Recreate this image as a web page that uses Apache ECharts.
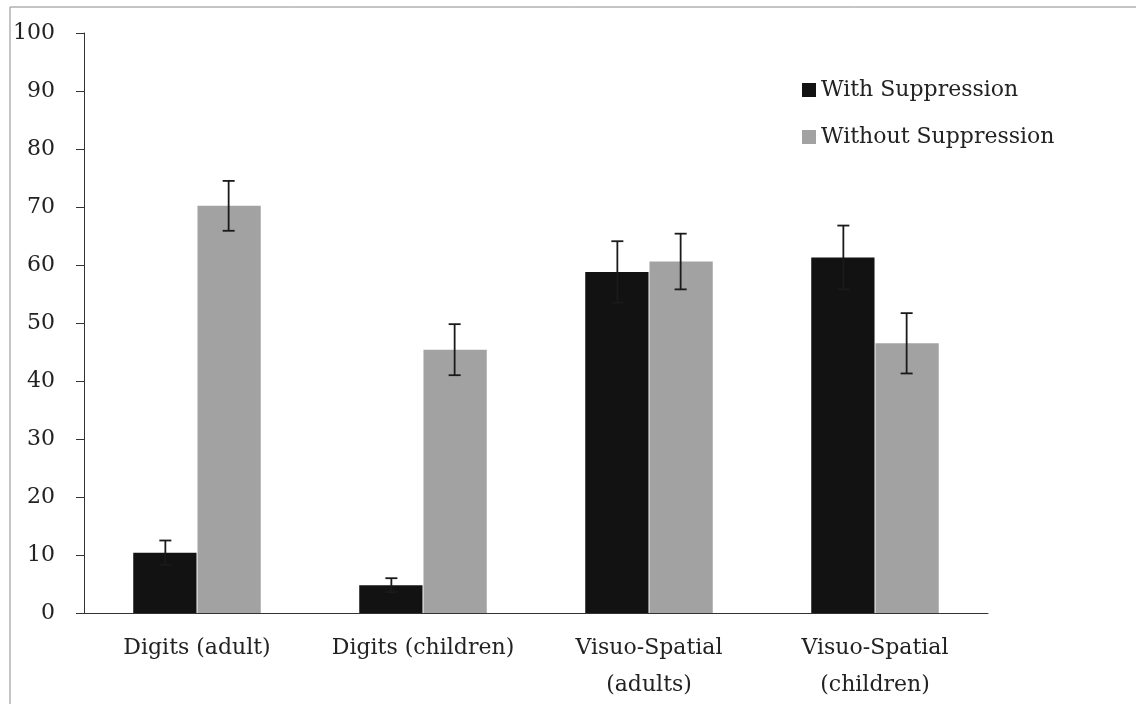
<!DOCTYPE html>
<html>
<head>
<meta charset="utf-8">
<script src="https://cdn.jsdelivr.net/npm/echarts@6/dist/echarts.min.js"></script>
<style>
  html, body { margin: 0; padding: 0; background: #fff; }
  #main { width: 1136px; height: 704px; }
</style>
</head>
<body>
<div id="main"></div>
<script>
// data
var categories = ['Digits (adult)', 'Digits (children)', 'Visuo-Spatial\n(adults)', 'Visuo-Spatial\n(children)'];
var withSupp = [10.4, 4.8, 58.8, 61.3];
var withSuppErr = [2.1, 1.2, 5.3, 5.5];
var withoutSupp = [70.2, 45.4, 60.6, 46.5];
var withoutSuppErr = [4.3, 4.4, 4.8, 5.2];
var yTicks = [0, 10, 20, 30, 40, 50, 60, 70, 80, 90, 100];

var font = 'DejaVu Serif';
var barFrac = 0.28; // bar width relative to the category band

function errorSeries(values, errs, side) {
  var data = values.map(function (v, i) { return [i, v, errs[i]]; });
  return {
    type: 'custom',
    silent: true,
    z: 5,
    data: data,
    renderItem: function (params, api) {
      var i = api.value(0), v = api.value(1), e = api.value(2);
      var band = api.size([1, 0])[0];
      var dx = side * band * barFrac / 2;
      var top = api.coord([i, v + e]);
      var bot = api.coord([i, v - e]);
      var x = top[0] + dx;
      var cap = 6;
      var style = { stroke: '#1a1a1a', lineWidth: 1.8 };
      return {
        type: 'group',
        children: [
          { type: 'line', shape: { x1: x, y1: top[1], x2: x, y2: bot[1] }, style: style },
          { type: 'line', shape: { x1: x - cap, y1: top[1], x2: x + cap, y2: top[1] }, style: style },
          { type: 'line', shape: { x1: x - cap, y1: bot[1], x2: x + cap, y2: bot[1] }, style: style }
        ]
      };
    }
  };
}

var myChart = echarts.init(document.getElementById('main'));
myChart.setOption({
  animation: false,
  backgroundColor: '#fff',
  textStyle: { fontFamily: font },
  graphic: [{
    type: 'rect',
    shape: { x: 10, y: 7, width: 1140, height: 710 },
    style: { fill: 'none', stroke: '#8a8a8a', lineWidth: 1 },
    silent: true
  }],
  grid: { left: 84, right: 148, top: 33, bottom: 87 },
  legend: {
    orient: 'vertical',
    left: 802,
    top: 79,
    padding: 0,
    itemWidth: 14,
    itemHeight: 14,
    itemGap: 25,
    icon: 'rect',
    data: ['With Suppression', 'Without Suppression'],
    textStyle: { fontFamily: font, fontSize: 22, color: '#222', lineHeight: 22 }
  },
  xAxis: {
    type: 'category',
    data: categories,
    axisLine: { lineStyle: { color: '#333', width: 1 } },
    axisTick: { length: 8, lineStyle: { color: '#333' } },
    axisLabel: { fontFamily: font, fontSize: 22, color: '#222', margin: 17, lineHeight: 37, interval: 0 }
  },
  yAxis: {
    type: 'value',
    min: yTicks[0],
    max: yTicks[yTicks.length - 1],
    interval: 10,
    splitLine: { show: false },
    axisLine: { show: true, lineStyle: { color: '#333', width: 1 } },
    axisTick: { show: true, length: 8, lineStyle: { color: '#333' } },
    axisLabel: { fontFamily: font, fontSize: 22, color: '#222', margin: 29 }
  },
  series: [
    {
      name: 'With Suppression',
      type: 'bar',
      data: withSupp,
      barWidth: (barFrac * 100) + '%',
      barGap: '1.5%',
      itemStyle: { color: '#121212' }
    },
    {
      name: 'Without Suppression',
      type: 'bar',
      data: withoutSupp,
      barWidth: (barFrac * 100) + '%',
      itemStyle: { color: '#a2a2a2' }
    },
    errorSeries(withSupp, withSuppErr, -1),
    errorSeries(withoutSupp, withoutSuppErr, 1)
  ]
});
</script>
</body>
</html>
